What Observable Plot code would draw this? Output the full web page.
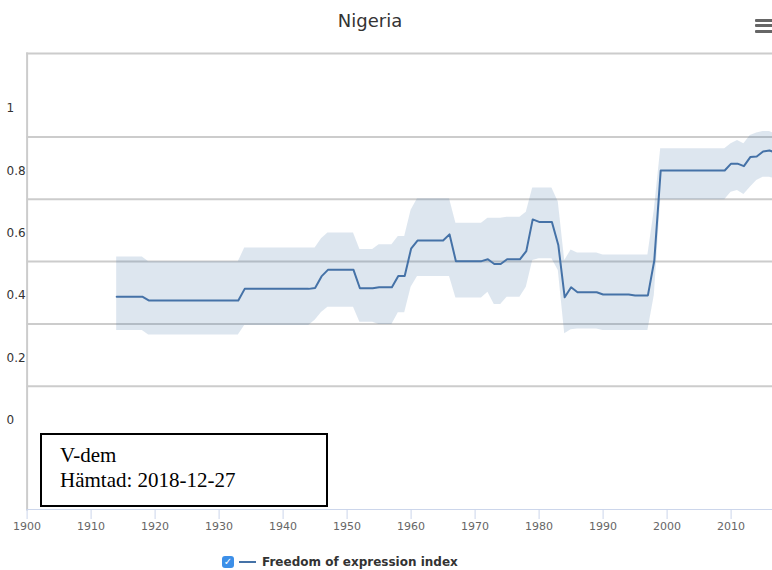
<!DOCTYPE html>
<html>
<head>
<meta charset="utf-8">
<script src="https://cdn.jsdelivr.net/npm/d3@7"></script>
<script src="https://cdn.jsdelivr.net/npm/@observablehq/plot@0.6"></script>
<style>
html, body { margin:0; padding:0; background:#fff; width:772px; height:570px; overflow:hidden; }
#wrap { position:relative; width:772px; height:570px; overflow:hidden; font-family:"DejaVu Sans", sans-serif; }
#chart { position:absolute; left:0; top:0; width:800px; }
#chart svg { max-width:none !important; width:800px !important; height:540px !important; }
#title { position:absolute; left:0; top:12px; width:740px; text-align:center; font-size:18px; line-height:18px; color:#333; }
.bar { position:absolute; left:755px; width:20px; height:3px; background:#666; border-radius:1px; }
#note { position:absolute; left:40px; top:433px; width:266px; height:61.6px; border:2px solid #000; padding:8.4px 0 0 18px;
        font-family:"Liberation Serif","Times New Roman",serif; font-size:21px; line-height:25px; color:#000; background:#fff; }
#legend { position:absolute; left:222px; top:555px; height:14px; font-size:12px; line-height:14px; font-weight:bold; color:#333; white-space:nowrap; }
#legend .box { position:absolute; left:0; top:1px; width:12px; height:12px; background:#3c8fe8; border-radius:3px; color:#fff; font-size:10px; line-height:12px; text-align:center; font-weight:normal; }
#legend .sw { position:absolute; left:17px; top:6px; width:17px; height:2px; background:#4572A7; }
#legend .lab { position:absolute; left:40px; top:0; }
</style>
</head>
<body>
<div id="wrap">
  <div id="chart"></div>
  <div id="title">Nigeria</div>
  <div class="bar" style="top:18.5px"></div>
  <div class="bar" style="top:24px"></div>
  <div class="bar" style="top:29.5px"></div>
  <div id="note">V-dem<br>Hämtad: 2018-12-27</div>
  <div id="legend"><span class="box">✓</span><span class="sw"></span><span class="lab">Freedom of expression index</span></div>
</div>
<script>
const years = [1914,1915,1916,1917,1918,1919,1920,1921,1922,1923,1924,1925,1926,1927,1928,1929,1930,1931,1932,1933,
1934,1935,1936,1937,1938,1939,1940,1941,1942,1943,1944,1945,1946,1947,1948,1949,1950,1951,1952,1953,1954,1955,1956,1957,
1958,1959,1960,1961,1962,1963,1964,1965,1966,1967,1968,1969,1970,1971,1972,1973,1974,1975,1976,1977,1978,1979,1980,1981,
1982,1983,1984,1985,1986,1987,1988,1989,1990,1991,1992,1993,1994,1995,1996,1997,1998,1999,2000,2001,2002,2003,2004,2005,
2006,2007,2008,2009,2010,2011,2012,2013,2014,2015,2016,2017];

const freedom = [0.396,0.396,0.396,0.396,0.396,
0.384,0.384,0.384,0.384,0.384,0.384,0.384,0.384,0.384,0.384,0.384,0.384,0.384,0.384,0.384,
0.421,0.421,0.421,0.421,0.421,0.421,0.421,0.421,0.421,0.421,0.421,
0.424,0.461,
0.482,0.482,0.482,0.482,0.482,
0.423,0.423,0.423,
0.426,0.426,0.426,
0.462,0.462,
0.55,
0.576,0.576,0.576,0.576,0.576,
0.596,
0.51,0.51,0.51,0.51,0.51,
0.516,
0.501,0.501,
0.516,0.516,0.516,
0.542,0.644,
0.636,0.636,0.636,
0.562,0.394,0.426,
0.41,0.41,0.41,0.41,
0.403,0.403,0.403,0.403,0.403,
0.40,0.40,0.40,
0.512,
0.801,0.801,0.801,0.801,0.801,0.801,0.801,0.801,0.801,0.801,0.801,
0.823,0.823,0.815,0.844,0.846,0.862,0.865,0.858];

const upper = [0.523,0.523,0.523,0.523,0.523,
0.508,0.508,0.508,0.508,0.508,0.508,0.508,0.508,0.508,0.508,0.508,0.508,0.508,0.508,0.508,
0.552,0.552,0.552,0.552,0.552,0.552,0.552,0.552,0.552,0.552,0.552,0.552,
0.582,
0.60,0.60,0.60,0.60,0.60,
0.547,0.547,0.547,
0.563,0.563,0.563,
0.589,0.589,
0.673,
0.71,0.71,0.71,0.71,0.71,0.71,
0.632,0.632,0.632,0.632,0.632,
0.648,0.648,0.648,0.651,0.651,0.651,
0.667,
0.745,0.745,0.745,0.745,
0.70,0.512,0.546,
0.536,0.536,0.536,0.536,
0.53,0.53,0.53,0.53,0.53,0.53,0.53,0.53,
0.673,
0.871,0.871,0.871,0.871,0.871,0.871,0.871,0.871,0.871,0.871,0.871,
0.887,0.897,0.887,0.913,0.921,0.926,0.926,0.918];

const lower = [0.287,0.287,0.287,0.287,0.287,
0.273,0.273,0.273,0.273,0.273,0.273,0.273,0.273,0.273,0.273,0.273,0.273,0.273,0.273,0.273,
0.303,0.303,0.303,0.303,0.303,0.303,0.303,0.303,0.303,0.303,0.303,
0.32,0.345,
0.362,0.362,0.362,0.362,0.362,
0.314,0.314,0.314,
0.307,0.307,0.307,
0.344,0.344,
0.426,
0.461,0.461,0.461,0.461,0.461,0.461,
0.392,0.392,0.392,0.392,0.392,
0.41,
0.371,0.371,
0.394,0.394,0.394,
0.426,0.512,
0.518,0.518,0.518,
0.48,0.277,0.29,
0.292,0.292,0.292,0.292,
0.287,0.287,0.287,0.287,0.287,0.287,0.287,0.287,
0.40,
0.707,0.707,0.707,0.707,0.707,0.707,0.707,0.707,0.707,0.707,0.707,
0.731,0.737,0.724,0.747,0.769,0.779,0.779,0.775];

const xTicks = [1900,1910,1920,1930,1940,1950,1960,1970,1980,1990,2000,2010];
const yTicks = [0,0.2,0.4,0.6,0.8,1];
const gridTicks = [0.2,0.4,0.6,0.8,1];

const data = years.map((y, i) => ({year: y, value: freedom[i], low: lower[i], high: upper[i]}));

const chart = Plot.plot({
  width: 800,
  height: 540,
  marginLeft: 26.6,
  marginRight: 5.4,
  marginTop: 53,
  marginBottom: 31,
  x: {domain: [1900, 2020]},
  y: {domain: [-0.2873, 1.1766]},
  style: {fontFamily: "DejaVu Sans", background: "transparent"},
  marks: [
    Plot.gridY(gridTicks, {dy: 28.5, stroke: "#cccccc", strokeOpacity: 1, strokeWidth: 2}),
    Plot.areaY(data, {x: "year", y1: "low", y2: "high", fill: "#4572A7", fillOpacity: 0.18}),
    Plot.lineY(data, {x: "year", y: "value", stroke: "#4572A7", strokeWidth: 2}),
    Plot.frame({anchor: "left", stroke: "#cccccc", strokeWidth: 2}),
    Plot.frame({anchor: "top", stroke: "#cccccc", strokeWidth: 2}),
    Plot.frame({anchor: "bottom", stroke: "#ccd6eb"}),
    Plot.axisX(xTicks, {tickSize: 10, tickPadding: 3, stroke: "#ccd6eb", color: "#666", fontSize: 11, tickFormat: d => String(d), label: null}),
    Plot.axisY(yTicks, {tickSize: 0, tickPadding: 0, textAnchor: "start", dx: -20.6, color: "#333", fontSize: 12, tickFormat: d => String(d), label: null})
  ]
});
chart.style.maxWidth = "none";
document.getElementById("chart").appendChild(chart);
</script>
</body>
</html>
